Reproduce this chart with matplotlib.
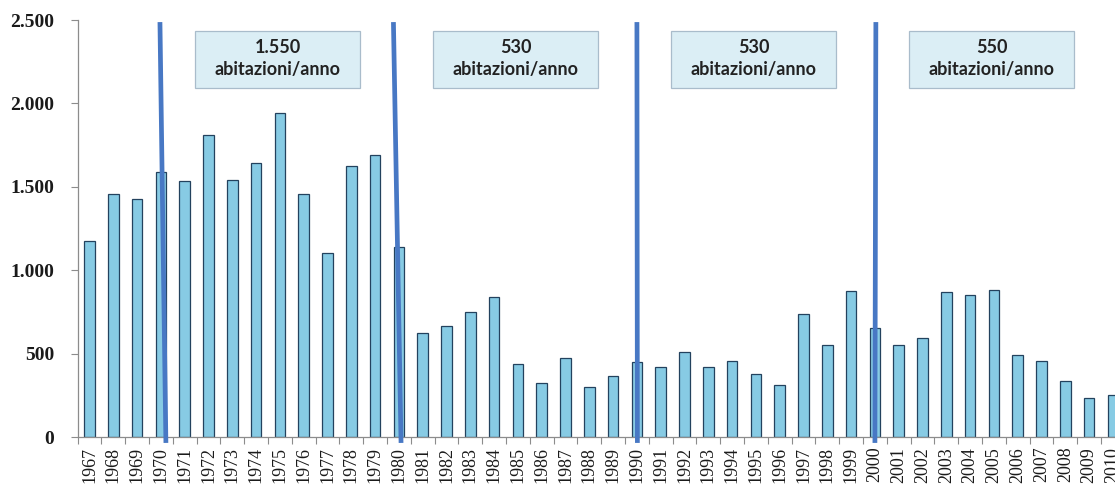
import matplotlib
matplotlib.use("Agg")
import matplotlib.pyplot as plt
from matplotlib.patches import Rectangle
from matplotlib.ticker import FuncFormatter, FixedLocator

# Annual new dwellings, 1967-2010
years = list(range(1967, 2011))
dwellings = [1175, 1455, 1430, 1590, 1535, 1810, 1540, 1645, 1945, 1455,
             1105, 1625, 1690, 1140, 625, 665, 750, 840, 440, 325,
             475, 300, 365, 450, 420, 510, 420, 455, 378, 310,
             740, 550, 875, 655, 550, 595, 870, 850, 880, 490,
             458, 335, 237, 250]

# Period boundaries and average per period
breaks = [1970, 1980, 1990, 2000]
period_mid = [1975, 1985, 1995, 2005]
period_avg = ["1.550", "530", "530", "550"]
unit_label = "abitazioni/anno"

# Slight lean of the hand-drawn separator lines (top offset, bottom offset)
lean = [(-0.04, 0.21), (-0.23, 0.09), (0.0, 0.02), (0.04, 0.0)]

BAR_FACE = "#87cbe4"
BAR_EDGE = "#23425e"
LINE_COL = "#4878c4"
AXIS_COL = "#8c8c8c"

fig = plt.figure(figsize=(11.15, 4.9), dpi=100)
ax = fig.add_axes([0.0696, 0.108, 0.9392, 0.851])

idx = list(range(len(years)))
ax.bar(idx, dwellings, width=0.45, color=BAR_FACE, edgecolor=BAR_EDGE,
       linewidth=0.9, zorder=2)

ax.set_xlim(-0.5, len(years) - 0.5)
ax.set_ylim(0, 2500)

# y axis: Italian thousands separator
ax.set_yticks([0, 500, 1000, 1500, 2000, 2500])
ax.yaxis.set_major_formatter(FuncFormatter(lambda v, p: f"{int(v):,}".replace(",", ".")))
for lab in ax.get_yticklabels():
    lab.set_fontfamily("Liberation Serif")
    lab.set_fontweight("bold")
    lab.set_fontsize(14)
    lab.set_color("#1a1a1a")
ax.tick_params(axis="y", direction="out", length=5, width=0.8, color=AXIS_COL, pad=12)

# x axis: year labels at bar centres, tick marks between bars
ax.set_xticks(idx)
ax.set_xticklabels([str(y) for y in years], rotation=90, fontfamily="Liberation Serif",
                   fontsize=13, color="#1a1a1a")
ax.tick_params(axis="x", which="major", length=0, pad=7)
ax.xaxis.set_minor_locator(FixedLocator([i - 0.5 for i in range(len(years) + 1)]))
ax.tick_params(axis="x", which="minor", direction="out", length=5, width=0.8, color=AXIS_COL)

for s in ("top", "right"):
    ax.spines[s].set_visible(False)
for s in ("left", "bottom"):
    ax.spines[s].set_color(AXIS_COL)
    ax.spines[s].set_linewidth(0.9)

# Period separator lines
for yr, (dt, db) in zip(breaks, lean):
    xi = years.index(yr)
    ax.plot([xi + dt, xi + db], [2488, -35], color=LINE_COL, linewidth=3.4,
            solid_capstyle="butt", zorder=4, clip_on=False)

# Period average boxes
box_w, box_lo, box_hi = 6.95, 2092, 2434
for mid, avg in zip(period_mid, period_avg):
    xc = years.index(mid) - 0.1
    ax.add_patch(Rectangle((xc - box_w / 2, box_lo), box_w, box_hi - box_lo,
                           facecolor="#dbeef5", edgecolor="#a9bccb", linewidth=0.9,
                           zorder=5))
    ax.text(xc, 2338, avg, ha="center", va="center", fontfamily="Lato",
            fontweight="bold", fontsize=13, color="#222222", zorder=6)
    ax.text(xc, 2205, unit_label, ha="center", va="center", fontfamily="Lato",
            fontweight="bold", fontsize=13, color="#222222", zorder=6)

fig.savefig("out.png", dpi=100, facecolor="white")
